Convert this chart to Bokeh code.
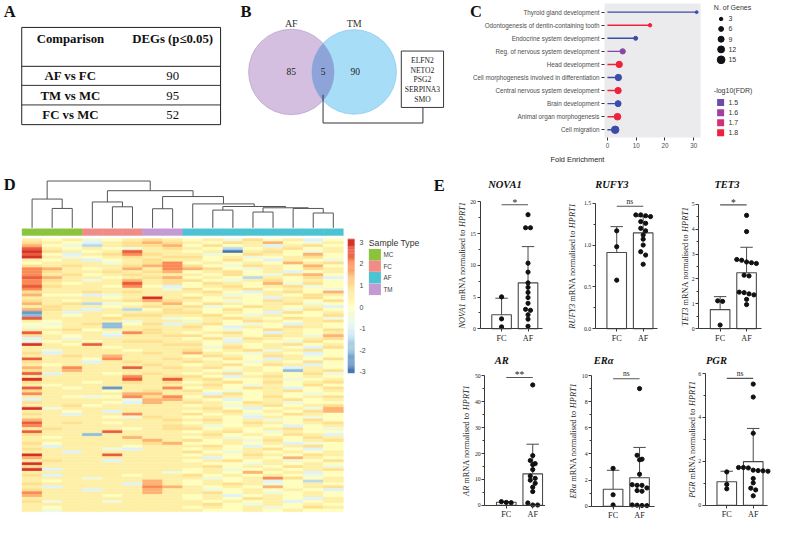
import numpy as np
from bokeh.plotting import figure
from bokeh.layouts import row, column
from bokeh.models import Range1d, FixedTicker, LinearColorMapper, PrintfTickFormatter, ColumnDataSource
from bokeh.transform import transform
from bokeh.core.properties import value
from bokeh.embed import file_html
from bokeh.resources import INLINE

# ======================= DATA =======================
# Panel A
table_header = ["Comparison", "DEGs (p\u22640.05)"]
comparisons = ["AF vs FC", "TM vs MC", "FC vs MC"]
deg_counts = [90, 95, 52]

# Panel B
venn_sets = ["AF", "TM"]
venn_counts = [85, 5, 90]          # AF only, shared, TM only
shared_genes = ["ELFN2", "NETO2", "PSG2", "SERPINA3", "SMO"]

# Panel C
go_terms = [
    "Thyroid gland development",
    "Odontogenesis of dentin-containing tooth",
    "Endocrine system development",
    "Reg. of nervous system development",
    "Head development",
    "Cell morphogenesis involved in differentiation",
    "Central nervous system development",
    "Brain development",
    "Animal organ morphogenesis",
    "Cell migration",
]
fold_enrichment = [31.0, 14.8, 9.8, 5.3, 4.1, 3.8, 3.7, 3.7, 3.5, 2.7]
n_genes = [2, 3, 4, 7, 10, 10, 10, 9, 11, 14]
neg_log10_fdr = [1.35, 1.82, 1.35, 1.55, 1.82, 1.35, 1.82, 1.35, 1.82, 1.35]
fold_ticks = [0, 10, 20, 30]
size_breaks = [3, 6, 9, 12, 15]
fdr_breaks = [1.5, 1.6, 1.7, 1.8]

# Panel D
sample_groups = ["MC"] * 3 + ["FC"] * 3 + ["TM"] * 2 + ["AF"] * 8
legend_groups = ["MC", "FC", "AF", "TM"]
scale_ticks = [3, 2, 1, 0, -1, -2, -3]
# z-score levels: A=-3, B=-2.5, ... G=0, ... M=3   (MC | FC | TM | AF)
heat_rows = [
    "HGH|FGH|IH|GHFIGHEG", "IHG|EHI|JI|HGIHJGFH", "JGF|DHI|IJ|GIGHEHIG", "LHG|HGF|HI|HGDGHIGH",
    "MIH|GHL|HH|GHAHIGFH", "LGE|HIK|IH|HFGIHGJG", "MHF|GHI|HI|IGHFGHIG", "HGH|EGH|IH|HGIGEHGF",
    "GHH|HFH|IK|GHGHGJHI", "IHI|HHI|JK|IGFIHGJG", "KJH|GHJ|HK|JIGFHGIH", "KIH|HIH|IJ|GHIGHEGH",
    "KHI|GHI|HH|HGIGFIJG", "LJH|HGH|IJ|GHGDHGIE", "KIH|FHJ|HI|IGFHIGHG", "KHG|HHL|HI|GIHGJFIG",
    "LIH|HGK|GE|GHIGHIFG", "KHH|HHH|HF|IGHIGHGF", "IHH|IHI|HH|HIGEHIGJ", "JGG|EFH|HH|GHFGHGIH",
    "HHH|HGH|MH|IGHGEHIG", "IHG|HHI|JI|HGFGIHGI", "JHI|DFG|HJ|GIHGHIFG", "HIH|HGH|IH|IFGIHGHE",
    "JIH|EHD|GI|HGIGHFIG", "BHE|HHH|HI|IGHGEIGH", "CHG|HGI|IH|HIGFHGGI", "LHH|HIH|HF|GHIHGIHF",
    "HGH|HHF|HH|FHGIHGHI", "GFH|ICG|IE|HIGFGEHG", "FGH|HCH|HH|IGEHGIHG", "HHI|GHH|IH|HGFGIHGI",
    "LGH|HFK|IH|GHIGEHGH", "IHG|HEH|HI|IGHGIHFJ", "EHF|HHH|HH|GIFIHGHI", "FGH|GHI|IH|HGEHGFIG",
    "MHG|LHH|HI|IGHGHIGH", "HHH|HGH|HH|HFIGHGEI", "HFH|HHG|HH|IGHIFHIG", "IEH|HHH|IH|JHGFHGEG",
    "HHI|HJH|HH|GIHGIHFG", "LHH|GKH|HI|HGIGEHGI", "IHH|EHI|HH|IHGFHGIG", "HGH|HHH|IH|GHIGIHEG",
    "JHK|HHL|HI|HIGHGEHG", "IHJ|HHH|HH|HGFHGCHI", "LEH|HGH|IH|GHIGHGIF", "HHH|HHK|HI|IGEHIGHG",
    "MHH|HHL|HL|HIGGHFGH", "IHH|GHI|HI|GHIGIGHI", "HGH|HHH|HH|HIGFHGIG", "LHG|HBH|HK|GHGIHEGI",
    "IHH|HGH|IH|IGFGHIGH", "KHH|HHJ|JH|HEIGHGFG", "HHG|FGK|IK|GIHGIGHI", "EHH|HHF|JJ|HGEGHIGH",
    "IHH|HGE|JH|IHGIHFGG", "HHI|GHH|HH|GHFHIGHI", "MFH|HHH|HH|HIGEGHFJ", "HHG|HEH|HH|GHIGHGIJ",
    "IHE|HHK|HH|IGHFGIHG", "HHH|HGF|IH|GHGEHGFG", "JHH|HHH|HI|HIGHFGIG", "LHI|HGH|HH|GHGIHGHI",
    "KHH|HHH|HI|HFGHGEGH", "HIH|HHG|HI|IGHGHIGF", "LHH|HLH|HH|GHIGFHGG", "IHH|CHH|HH|HIGHGIHE",
    "HGH|HHJ|HH|GHFGHGIH", "HHH|HHH|JH|IGHFIGHI", "IGH|HHH|IJ|GGHGHEFG", "HEH|HHG|HH|HIGEGHIG",
    "IHH|HFE|HH|GHGHIGEG", "HHE|HHH|HH|IGFHGHGH", "MHH|HLH|HH|GHGIHGIH", "JHH|HHH|HH|HEGHGJHG",
    "HIH|HEH|HH|GHIGHFGI", "MHH|HHH|HH|HGGFHGHG", "IHH|HHH|HH|HIGHGIHF", "MEH|HHH|HH|GHFGHGHI",
    "HHH|HHH|HF|GHGJGHEG", "IEH|HHG|HH|IGHGHGFG", "HHH|FHH|HH|HFGHKIGH", "HGH|HHH|JH|GHGHEGDH",
    "IHH|HHE|JH|GHIHFGHG", "HEH|HHH|KJ|HGHGJGHI", "IHH|EHH|JH|HFGHGHGE", "KHH|HHH|JH|HIGHFGHG",
    "JHH|HGH|HH|GHEGHGHG", "HHH|HHH|HH|GHGIHGEH", "IFH|HFH|HH|HGHGHEGH", "HHH|HHH|HH|HIGFHGHG",
    "HGH|HHH|HH|GHGHFGIH", "HFH|HHH|HH|HGGHGHGG",
]
# dendrogram merges (left id, right id, height); leaves 0..15, new clusters 16..
dendro_merges = [
    (1, 2, 20.0), (0, 16, 29.7), (4, 5, 21.7), (3, 18, 26.7), (6, 7, 19.7),
    (9, 10, 18.3), (11, 12, 16.3), (14, 15, 15.3), (13, 23, 20.0), (22, 24, 20.7),
    (21, 25, 22.0), (8, 26, 24.7), (20, 27, 32.3), (19, 28, 38.3), (17, 29, 48.3),
]

# Panel E
e_genes = ["NOVA1", "RUFY3", "TET3", "AR", "ER\u03b1", "PGR"]
e_groups = ["FC", "AF"]
fc_values = [
    [5.03, 1.56, 0.30],
    [1.17, 0.98, 0.58],
    [1.12, 1.10, 0.15],
    [1.10, 1.40, 1.00],
    [2.90, 0.88, 0.10],
    [1.52, 0.95, 0.75],
]
af_values = [
    [17.99, 15.93, 15.93, 10.35, 8.94, 7.24, 6.53, 5.73, 4.92, 4.02, 3.07, 2.91, 2.21, 1.51, 0.40],
    [1.36, 1.36, 1.35, 1.34, 1.28, 1.26, 1.20, 1.17, 1.12, 1.07, 1.00, 0.92, 0.88, 0.77],
    [4.55, 3.90, 2.78, 2.75, 2.68, 2.65, 2.62, 2.15, 2.12, 1.47, 1.45, 1.40, 1.36, 1.18, 0.97],
    [46.5, 19.2, 17.3, 16.1, 15.7, 13.8, 11.3, 10.4, 9.7, 8.5, 7.0, 5.3, 0.9, 0.1, 0.1],
    [9.0, 3.9, 3.6, 3.55, 2.45, 1.65, 1.6, 1.6, 1.4, 1.2, 1.15, 0.1, 0.08, 0.06, 0.05],
    [5.52, 4.93, 3.28, 1.72, 1.72, 1.70, 1.60, 1.58, 1.57, 1.55, 1.22, 1.02, 0.78, 0.70, 0.43],
]
fc_mean = [2.21, 0.91, 0.77, 1.15, 1.30, 1.07]
fc_sd = [2.61, 0.31, 0.52, 0.30, 1.45, 0.48]
af_mean = [7.24, 1.145, 2.25, 12.15, 2.18, 1.99]
af_sd = [5.72, 0.195, 1.02, 11.45, 2.32, 1.51]
sig_text = ["*", "ns", "*", "**", "ns", "ns"]
sig_level = [19.55, 1.463, 4.97, 49.4, 9.75, 5.78]
axis_max = [20, 1.5, 5, 50, 10, 6]
axis_step = [5, 0.5, 1, 10, 2, 2]
axis_fmt = ["%d", "%.1f", "%d", "%d", "%d", "%d"]

# ======================= STYLE =======================
SERIF = "Liberation Serif"
SANS = "Liberation Sans"
NARROW = "Liberation Sans Narrow, Liberation Sans, sans-serif"
HEAT_STOPS = ["#4575b4", "#91bfdb", "#e0f3f8", "#ffffbf", "#fee090", "#fc8d59", "#d73027"]
GROUP_COLORS = {"MC": "#8cc33c", "FC": "#f08c87", "AF": "#4bc3d2", "TM": "#c39bd2"}
FDR_STOPS = [1.35, 1.5, 1.6, 1.7, 1.8]
FDR_RGB = [(58, 76, 168), (107, 76, 166), (160, 63, 165), (211, 48, 122), (238, 34, 60)]


def interp_palette(hexes, n):
    rgb = np.array([[int(h[k:k + 2], 16) for k in (1, 3, 5)] for h in hexes], float)
    out = []
    for tv in np.linspace(0, len(hexes) - 1, n):
        i = min(int(tv), len(hexes) - 2)
        f = tv - i
        c = rgb[i] * (1 - f) + rgb[i + 1] * f
        out.append("#%02x%02x%02x" % tuple(int(round(v)) for v in c))
    return out


def fdr_color(v):
    c = [np.interp(v, FDR_STOPS, [t[k] for t in FDR_RGB]) for k in range(3)]
    return "#%02x%02x%02x" % tuple(int(round(x)) for x in c)


def dot_px(n):
    return 2.0 * np.sqrt(n)


def base_fig(w, h, xr, yr, **kw):
    p = figure(width=w, height=h, x_range=xr, y_range=yr, output_backend="svg",
               toolbar_location=None, min_border=0, **kw)
    p.outline_line_color = None
    p.border_fill_color = "white"
    p.background_fill_color = "white"
    for g in p.xgrid + p.ygrid:
        g.visible = False
    return p


def blank_fig(w, h, x0, x1, y0, y1):
    return base_fig(w, h, Range1d(x0, x1), Range1d(y0, y1),
                    x_axis_location=None, y_axis_location=None)


def put_text(p, x, y, s, size, font=SERIF, style="normal", color="#222",
             align="center", baseline="middle", **kw):
    p.text(x=[x], y=[y], text=[s], text_font=value(font), text_font_size=value(f"{size}px"),
           text_font_style=value(style), text_color=value(color), text_align=value(align),
           text_baseline=value(baseline), **kw)


# ======================= PANEL A =======================
pA = blank_fig(223, 175, 0, 228, 180, 0)
put_text(pA, 9.5, 11.5, "A", 16.5, style="bold", color="#111")
tx0, tx1 = 21.7, 225.0
hl = [27.7, 67.7, 87.3, 107.3, 127.7]
pA.segment(x0=[tx0] * 5, y0=hl, x1=[tx1] * 5, y1=hl,
           line_color=["#222", "#222", "#333", "#8a8a8a", "#222"], line_width=[1, 1, 1, 1.8, 1])
pA.segment(x0=[tx0, tx1], y0=[27.7, 27.7], x1=[tx0, tx1], y1=[127.7, 127.7], line_color="#222", line_width=1)
col_x = [71.5, 176.0]
for cx, s in zip(col_x, table_header):
    put_text(pA, cx, 39.5, s, 12.8, style="bold", color="#111")
for i, (cmp_, n) in enumerate(zip(comparisons, deg_counts)):
    yy = 78.0 + 20.0 * i
    put_text(pA, col_x[0], yy, cmp_, 12.8, style="bold", color="#111")
    put_text(pA, col_x[1], yy, str(n), 12.8, color="#111")

# ======================= PANEL B =======================
pB = blank_fig(223, 175, 228, 455, 180, 0)
put_text(pB, 251, 11.5, "B", 16.5, style="bold", color="#111")
c1, c2, r1, r2, cy = 297.0, 361.0, 43.5, 43.0, 73.5
pB.circle(x=[c1], y=[cy], radius=r1, fill_color="#b895cc", fill_alpha=0.6,
          line_color="#b095c8", line_width=0.6)
pB.circle(x=[c2], y=[cy], radius=r2, fill_color="#6cc6f2", fill_alpha=0.6,
          line_color="#78bfe6", line_width=0.6)
d = c2 - c1
a = (d * d + r1 * r1 - r2 * r2) / (2 * d)
hh = np.sqrt(r1 * r1 - a * a)
t1 = np.arctan2(hh, a)
t2 = np.arctan2(hh, d - a)
ang1 = np.linspace(-t1, t1, 40)
ang2 = np.linspace(np.pi - t2, np.pi + t2, 40)
lens_x = list(c1 + r1 * np.cos(ang1)) + list(c2 + r2 * np.cos(ang2))
lens_y = list(cy + r1 * np.sin(ang1)) + list(cy + r2 * np.sin(ang2))
pB.patch(lens_x, lens_y, fill_color="#8ea3d8", line_color=None)
put_text(pB, c1, 24, venn_sets[0], 10, color="#333")
put_text(pB, c2, 24, venn_sets[1], 10, color="#333")
xi = c1 + a
put_text(pB, c1, 73, str(venn_counts[0]), 9.5, color="#222")
put_text(pB, xi, 73, str(venn_counts[1]), 9.5, color="#222")
put_text(pB, c2 + 1, 73, str(venn_counts[2]), 9.5, color="#222")
pB.multi_line(xs=[[xi, xi, 431, 431]], ys=[[97, 126, 126, 110]], line_color="#333", line_width=1)
pB.rect(x=[430.5], y=[81], width=43, height=58, fill_color="white", line_color="#222", line_width=0.9)
for k, g in enumerate(shared_genes):
    put_text(pB, 430.5, 61.5 + 10 * k, g, 7.6, color="#222")

# ======================= PANEL C =======================
nC = len(go_terms)
ypos = [nC - 1 - i for i in range(nC)]
PXU = 2.933     # ref px per fold unit
SPC = 13.44     # ref px per category


def cx_(ref):
    return (ref - 619) / PXU


def cy_(ref):
    return (nC - 1) + (12 - ref) / SPC


pC = base_fig(262, 175, Range1d(cx_(455), cx_(722)), Range1d(cy_(180), cy_(0)))
pC.quad(left=[cx_(616)], right=[cx_(714)], bottom=[cy_(141)], top=[cy_(3)],
        fill_color="#ebebed", line_color=None)
ya = pC.yaxis[0]
ya.fixed_location = cx_(616)
ya.ticker = FixedTicker(ticks=ypos)
ya.major_label_overrides = {ypos[i]: go_terms[i] for i in range(nC)}
xa = pC.xaxis[0]
xa.fixed_location = cy_(141)
xa.ticker = FixedTicker(ticks=fold_ticks)
xa.axis_label = "Fold Enrichment"
for ax in (xa, ya):
    ax.axis_line_color = None
    ax.major_tick_out = 3
    ax.major_tick_in = 0
    ax.major_tick_line_color = "#333"
    ax.minor_tick_line_color = None
    ax.major_label_text_font = NARROW
    ax.major_label_text_font_size = "6.3px"
    ax.major_label_text_color = "#4d4d4d"
    ax.major_label_standoff = 2
xa.axis_label_text_font = NARROW
xa.axis_label_text_font_size = "7.4px"
xa.axis_label_text_font_style = "normal"
xa.axis_label_text_color = "#222"
xa.axis_label_standoff = 4
cols_C = [fdr_color(v) for v in neg_log10_fdr]
pC.segment(x0=[0] * nC, y0=ypos, x1=fold_enrichment, y1=ypos, line_color=cols_C, line_width=1.4)
pC.scatter(x=fold_enrichment, y=ypos, size=[dot_px(g) for g in n_genes], color=cols_C)
put_text(pC, cx_(485), cy_(11), "C", 16.5, style="bold", color="#111")

pL = blank_fig(66, 175, 722, 790, 180, 0)
put_text(pL, 727.5, 7.5, "N. of Genes", 7, font=SANS, align="left", color="#333")
size_y = [19, 29.3, 39.8, 50.3, 61]
pL.scatter(x=[735] * len(size_breaks), y=size_y, size=[dot_px(g) for g in size_breaks], color="#111")
for yy, g in zip(size_y, size_breaks):
    put_text(pL, 742.5, yy, str(g), 7, font=SANS, align="left", color="#333")
put_text(pL, 727.5, 93, "-log10(FDR)", 7, font=SANS, align="left", color="#333")
fdr_y = [105, 115.5, 125.8, 136]
pL.scatter(x=[734.5] * len(fdr_breaks), y=fdr_y, marker="square", size=7, line_color=None,
           fill_color=[fdr_color(v) for v in fdr_breaks])
for yy, v in zip(fdr_y, fdr_breaks):
    put_text(pL, 742.5, yy, f"{v:.1f}", 7, font=SANS, align="left", color="#333")

# ======================= PANEL D =======================
pD = blank_fig(431, 346, 0, 440, 537, 180)
NR = len(heat_rows)
NCOL = len(sample_groups)
rh = 282.0 / NR
cw = 20.5
pD.extra_x_ranges = {"col": Range1d(-22 / cw, (440 - 22) / cw)}
pD.extra_y_ranges = {"row": Range1d((537 - 245) / rh, (180 - 245) / rh),
                     "dend": Range1d(234 - 537, 234 - 180),
                     "cbar": Range1d((315.7 - 537) / 22.2, (315.7 - 180) / 22.2)}
LEVELS = "ABCDEFGHIJKLM"
hx, hy, hv = [], [], []
for r, s in enumerate(heat_rows):
    for c, ch in enumerate(s.replace("|", "")):
        hx.append(c + 0.5)
        hy.append(r + 0.5)
        hv.append(-3 + 0.5 * LEVELS.index(ch))
pal = interp_palette(HEAT_STOPS, 100)
mapper = LinearColorMapper(palette=pal, low=-3, high=3)
src = ColumnDataSource(dict(x=hx, y=hy, v=hv))
pD.rect(x="x", y="y", width=1, height=1, source=src, x_range_name="col", y_range_name="row",
        fill_color=transform("v", mapper), line_color=transform("v", mapper), line_width=0.4)
pD.rect(x=[c + 0.5 for c in range(NCOL)], y=[238.5] * NCOL, width=1, height=7, x_range_name="col",
        fill_color=[GROUP_COLORS[g] for g in sample_groups],
        line_color=[GROUP_COLORS[g] for g in sample_groups], line_width=0.4)
pos = {i: i + 0.5 for i in range(NCOL)}
hgt = {i: 0.0 for i in range(NCOL)}
dxs, dys = [], []
for k, (a_, b_, h_) in enumerate(dendro_merges):
    dxs.append([pos[a_], pos[a_], pos[b_], pos[b_]])
    dys.append([hgt[a_], h_, h_, hgt[b_]])
    pos[NCOL + k] = (pos[a_] + pos[b_]) / 2
    hgt[NCOL + k] = h_
pD.multi_line(xs=dxs, ys=dys, x_range_name="col", y_range_name="dend", line_color="#555", line_width=1)
cb_v = np.linspace(-3.05, 3.15, 125)
cb_src = ColumnDataSource(dict(y=cb_v, v=cb_v))
pD.rect(x=358, y="y", width=7, height=(6.2 / 124) * 1.1, source=cb_src, y_range_name="cbar",
        fill_color=transform("v", mapper), line_color=None)
for t in scale_ticks:
    pD.text(x=[366.5], y=[t], text=[str(t)], y_range_name="cbar", text_font=value(SANS),
            text_font_size=value("7px"), text_color=value("#444"), text_align=value("left"),
            text_baseline=value("middle"))
put_text(pD, 376, 249.5, "Sample Type", 8.7, font=SANS, align="left", color="#333")
leg_y = [261.8, 273.5, 285.5, 297.5]
pD.rect(x=[382.2] * 4, y=leg_y, width=12.3, height=11.8,
        fill_color=[GROUP_COLORS[g] for g in legend_groups], line_color=None)
for yy, g in zip(leg_y, legend_groups):
    put_text(pD, 391, yy, g, 6.3, font=SANS, align="left", color="#444")
put_text(pD, 9.5, 189.5, "D", 16.5, style="bold", color="#111")

# ======================= PANEL E =======================
# (column, row, y-axis x in ref px, ref y of 0, ref y of axis max, title centre offset from axis)
E_LAYOUT = [
    (0, 0, 489.5, 340.4, 207.7, 25.5),
    (1, 0, 607.0, 340.3, 209.0, 17.0),
    (2, 0, 712.5, 340.4, 210.0, 29.0),
    (0, 1, 494.3, 520.5, 388.9, 17.4),
    (1, 1, 603.3, 521.5, 388.5, 12.4),
    (2, 1, 719.3, 520.5, 386.5, 11.4),
]
COL_W = [114, 114, 115]
ROW_H = [172, 174]
ROW_TOP = [180.0, 360.0]
TITLE_Y = [189.0, 373.0]
SXE = 343.0 / 350.0
SYE = [172.0 / 180.0, 174.0 / 177.0]
COL_LEFT = [440.0, 440.0 + 114 / SXE, 440.0 + 228 / SXE]
UNIT = 27.0
TW_R = {' ': .25, 'm': .778, 'R': .667, 'N': .722, 'A': .722, 'n': .5, 'o': .5, 'r': .333,
        'a': .444, 'l': .278, 'i': .278, 's': .389, 'e': .444, 'd': .5, 't': .278}
TW_I = {'N': .667, 'O': .722, 'V': .611, 'A': .611, '1': .5, 'R': .611, 'U': .722, 'F': .611,
        'Y': .556, '3': .5, 'T': .556, 'E': .611, '\u03b1': .55, 'H': .722, 'P': .611, 'G': .722}


def tw(s, italic):
    tab = TW_I if italic else TW_R
    return sum(tab.get(ch, 0.5) for ch in s)


def swarm(vals, center, ref_ppu):
    order = sorted(range(len(vals)), key=lambda k: -vals[k])
    xs = [center] * len(vals)
    groups = []
    for k in order:
        if groups and (vals[groups[-1][0]] - vals[k]) * ref_ppu < 4.2:
            groups[-1].append(k)
        else:
            groups.append([k])
    for g in groups:
        m = len(g)
        for j, k in enumerate(g):
            xs[k] = center + (j - (m - 1) / 2) * 5.0 / UNIT
    return xs


def e_panel(i):
    ci, ri, ax_ref, y0_ref, ytop_ref, toff = E_LAYOUT[i]
    w, h, sy = COL_W[ci], ROW_H[ri], SYE[ri]
    ymax = axis_max[i]
    ref_ppu = (y0_ref - ytop_ref) / ymax

    def xd(ref):
        return 0.5 + (ref - ax_ref - 22) / UNIT

    def yd(ref):
        return (y0_ref - ref) / ref_ppu

    p = base_fig(w, h, Range1d(xd(COL_LEFT[ci]), xd(COL_LEFT[ci] + w / SXE)),
                 Range1d(yd(ROW_TOP[ri] + h / sy), yd(ROW_TOP[ri])))
    x_axis_pos = xd(ax_ref)
    step = axis_step[i]
    majors = [round(k * step, 4) for k in range(int(round(ymax / step)) + 1)]
    minors = [m + step / 2 for m in majors[:-1]]
    ya = p.yaxis[0]
    ya.fixed_location = x_axis_pos
    ya.bounds = (0, ymax)
    ya.ticker = FixedTicker(ticks=majors, minor_ticks=minors)
    ya.formatter = PrintfTickFormatter(format=axis_fmt[i])
    ya.minor_tick_out = 2
    ya.minor_tick_in = 0
    ya.minor_tick_line_color = "#3a3a3a"
    ya.major_label_text_font_size = "5.8px"
    ya.major_label_standoff = 1
    xa = p.xaxis[0]
    xa.fixed_location = 0
    xa.bounds = (x_axis_pos, xd(ax_ref + 64))
    xa.ticker = FixedTicker(ticks=[0.5, 1.5])
    xa.major_label_overrides = {0.5: e_groups[0], 1.5: e_groups[1]}
    xa.minor_tick_line_color = None
    xa.major_label_text_font_size = "8.2px"
    xa.major_label_standoff = 2
    for ax in (xa, ya):
        ax.axis_line_color = "#3a3a3a"
        ax.axis_line_width = 1
        ax.major_tick_line_color = "#3a3a3a"
        ax.major_tick_out = 3
        ax.major_tick_in = 0
        ax.major_label_text_font = SERIF
        ax.major_label_text_color = "#222"
    xpos = [0.5, 1.5]
    means = [fc_mean[i], af_mean[i]]
    sds = [fc_sd[i], af_sd[i]]
    tops = [m + s for m, s in zip(means, sds)]
    p.vbar(x=xpos, top=means, bottom=0, width=0.74, fill_color="white", line_color="#4a4a4a", line_width=1.1)
    p.segment(x0=xpos, y0=means, x1=xpos, y1=tops, line_color="#4a4a4a", line_width=1)
    p.segment(x0=[x - 0.235 for x in xpos], y0=tops, x1=[x + 0.235 for x in xpos], y1=tops,
              line_color="#4a4a4a", line_width=1)
    fx = swarm(fc_values[i], 0.5, ref_ppu)
    axx = swarm(af_values[i], 1.5, ref_ppu)
    p.scatter(x=fx + axx, y=fc_values[i] + af_values[i], size=4.2, color="#111")
    s = sig_level[i]
    p.segment(x0=[0.5], y0=[s], x1=[1.5], y1=[s], line_color="#555", line_width=1.1)
    star = sig_text[i] != "ns"
    p.text(x=[1.0], y=[s], text=[sig_text[i]], text_font=value(SERIF),
           text_font_size=value("9.5px" if star else "7.5px"), text_color=value("#222"),
           text_align=value("center"), text_baseline=value("bottom"),
           y_offset=(3 if star else -0.5))
    put_text(p, xd(ax_ref + toff), yd(TITLE_Y[ri]), e_genes[i], 10.5, style="bold italic", color="#111")
    # y-axis label with italic gene names
    fs = 8.3
    ppu_px = ref_ppu * sy
    pieces = [(e_genes[i], "italic"), ("mRNA normalised to", "normal"), ("HPRT1", "italic")]
    widths = [tw(t, st == "italic") * fs for t, st in pieces]
    gap = 0.25 * fs
    W = sum(widths) + 2 * gap
    nchar = len(axis_fmt[i] % ymax)
    off_ref = 8.5 + 4.8 * nchar
    lx = xd(ax_ref - off_ref)
    cur = ymax / 2 - W / 2 / ppu_px
    for (t, st), wpx in zip(pieces, widths):
        put_text(p, lx, cur, t, fs, style=st, color="#222", align="left", angle=np.pi / 2)
        cur += (wpx + gap) / ppu_px
    if i == 0:
        put_text(p, xd(448), yd(190), "E", 16.5, style="bold", color="#111")
    return p


E = [e_panel(i) for i in range(6)]

page = column(row(pA, pB, pC, pL),
              row(pD, column(row(E[0], E[1], E[2]), row(E[3], E[4], E[5]))))
open("out.html", "w").write(file_html(page, INLINE))
